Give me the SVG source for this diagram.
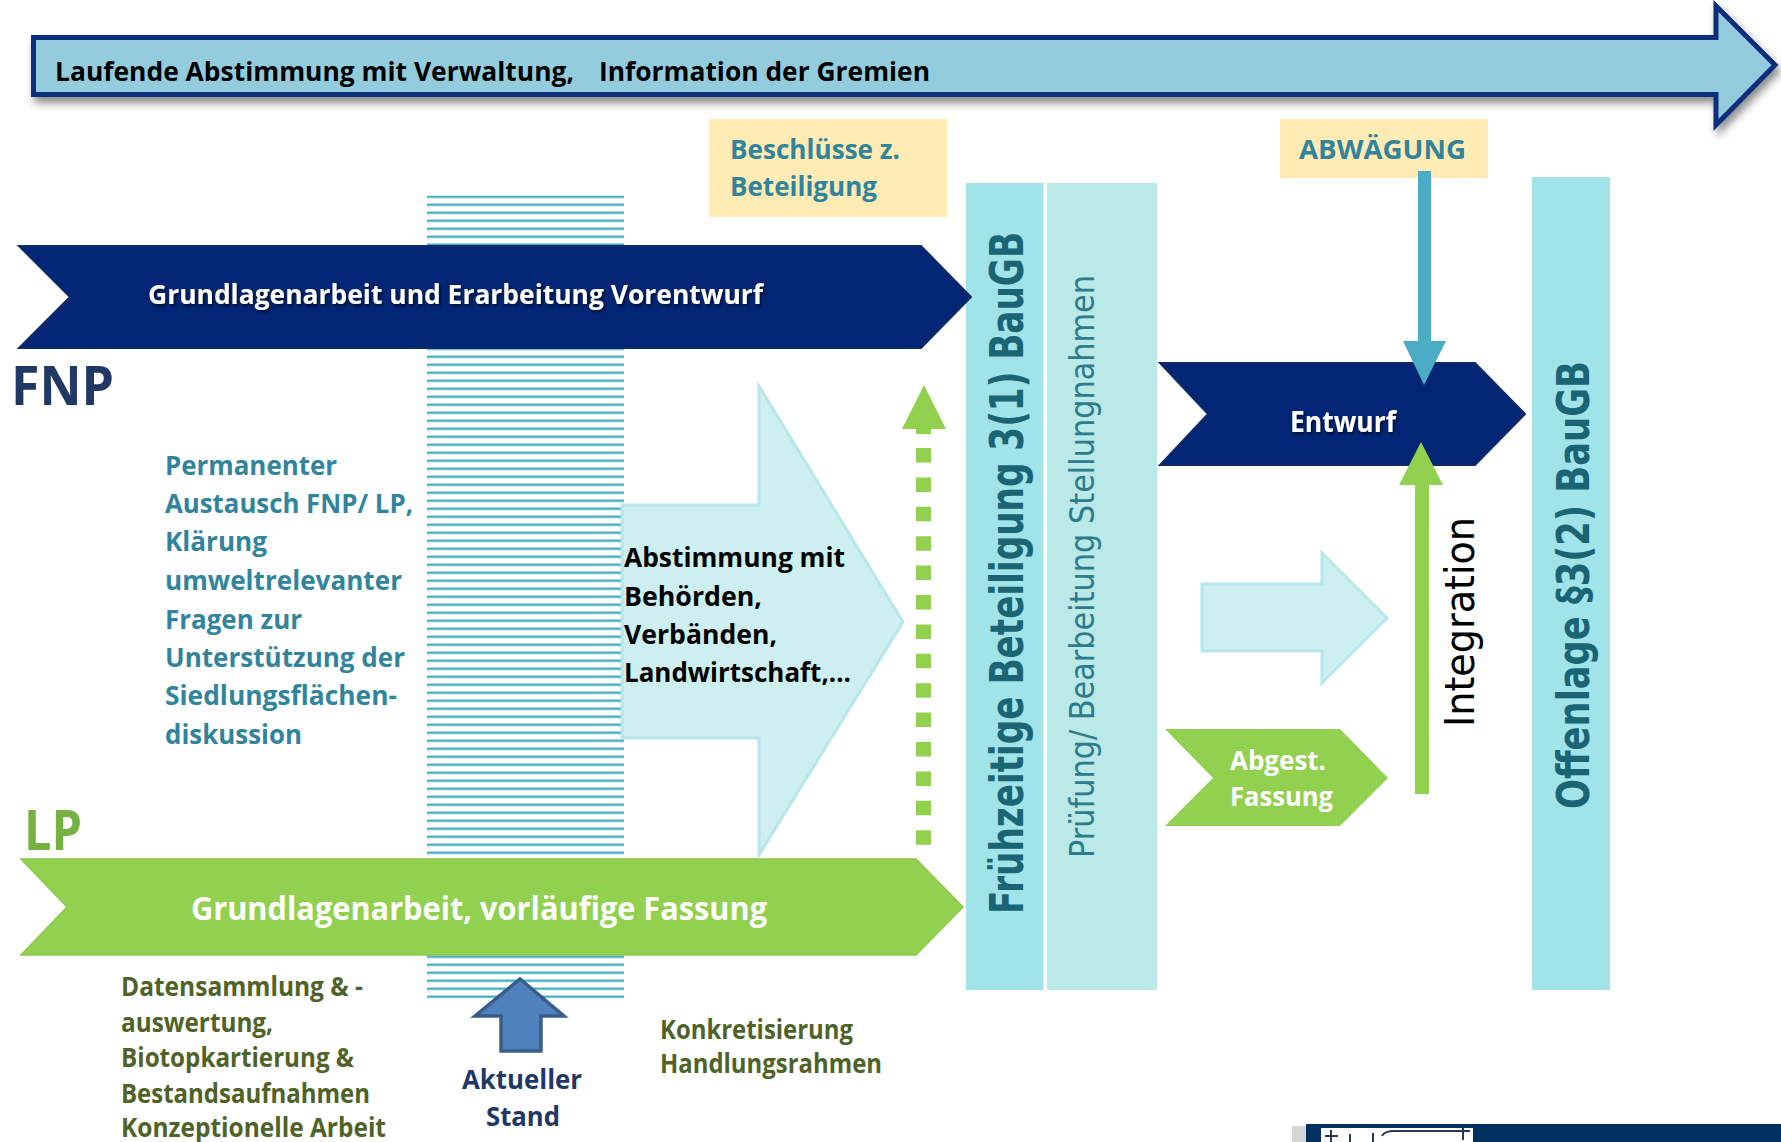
<svg xmlns="http://www.w3.org/2000/svg" width="1781" height="1142" viewBox="0 0 1781 1142">
<defs>
<style>
.t{font-family:"Open Sans","Liberation Sans",sans-serif;font-weight:bold}
.v{font-family:"DejaVu Sans","Liberation Sans",sans-serif}
.teal{fill:#31849B}
.olive{fill:#4F6228}
.wh{fill:#FFFFFF}
.navy{fill:#022575;stroke:#0E2C66;stroke-width:2}
.green{fill:#92D050}
.light{fill:#CDEFEF;stroke:#B8E6EA;stroke-width:3}
</style>
<pattern id="hatch" patternUnits="userSpaceOnUse" x="0" y="195.5" width="200" height="8">
<rect x="0" y="0" width="200" height="2.5" fill="#4BACC6"/>
</pattern>
<filter id="sh" x="-5%" y="-30%" width="110%" height="170%">
<feDropShadow dx="3" dy="6" stdDeviation="4" flood-color="#000" flood-opacity="0.45"/>
</filter>
<filter id="tsh" x="-10%" y="-30%" width="120%" height="160%">
<feDropShadow dx="1.5" dy="2" stdDeviation="1.5" flood-color="#000" flood-opacity="0.6"/>
</filter>
</defs>
<rect width="1781" height="1142" fill="#FFFFFF"/>

<g id="top-arrow">
<polygon points="33.5,37.5 1716,37.5 1716,6 1775,65 1716,125 1716,94.5 33.5,94.5" fill="#93CDDD" stroke="#0D2D7A" stroke-width="5" filter="url(#sh)"/>
<text class="t" x="55" y="81" font-size="27" fill="#000" textLength="519" lengthAdjust="spacingAndGlyphs">Laufende Abstimmung mit Verwaltung,</text>
<text class="t" x="599" y="81" font-size="27" fill="#000" textLength="331" lengthAdjust="spacingAndGlyphs">Information der Gremien</text>
</g>

<g id="hatch-column">
<rect x="427" y="195.5" width="197" height="803" fill="url(#hatch)"/>
</g>

<g id="beschluesse">
<rect x="709" y="119" width="238" height="98" fill="#FFEBB3"/>
<text class="t teal" x="730" y="159" font-size="26" textLength="170" lengthAdjust="spacingAndGlyphs">Beschlüsse z.</text>
<text class="t teal" x="730" y="196" font-size="26" textLength="147" lengthAdjust="spacingAndGlyphs">Beteiligung</text>
</g>

<g id="abwaegung">
<rect x="1280" y="119" width="208" height="59" fill="#FFEBB3"/>
<text class="t teal" x="1299" y="159" font-size="27" textLength="167" lengthAdjust="spacingAndGlyphs">ABWÄGUNG</text>
</g>

<g id="col-fruehzeitig">
<rect x="966" y="183" width="77.5" height="807" fill="#A0E3E8"/>
<text class="v" transform="translate(1023,914) rotate(-90)" font-size="46" font-weight="bold" fill="#1B6474" textLength="682" lengthAdjust="spacingAndGlyphs">Frühzeitige Beteiligung 3(1) BauGB</text>
</g>

<g id="col-pruefung">
<rect x="1047" y="183" width="110" height="807" fill="#BBE9E8"/>
<text class="v" transform="translate(1094,858) rotate(-90)" font-size="34" fill="#2B7C8C" textLength="583" lengthAdjust="spacingAndGlyphs">Prüfung/ Bearbeitung Stellungnahmen</text>
</g>

<g id="col-offenlage">
<rect x="1532" y="177" width="78" height="813" fill="#A0E3E8"/>
<text class="v" transform="translate(1589,809) rotate(-90)" font-size="45" font-weight="bold" fill="#1B6474" textLength="448" lengthAdjust="spacingAndGlyphs">Offenlage §3(2) BauGB</text>
</g>

<g id="fnp-arrow">
<polygon class="navy" points="19,246 921,246 971,297 921,348 19,348 70,297"/>
<text class="t wh" x="148" y="304" font-size="26" textLength="615" lengthAdjust="spacingAndGlyphs" filter="url(#tsh)">Grundlagenarbeit und Erarbeitung Vorentwurf</text>
</g>

<g id="label-fnp">
<text class="t" x="11" y="405" font-size="54" fill="#1F3864" textLength="103" lengthAdjust="spacingAndGlyphs">FNP</text>
</g>

<g id="permanent-text">
<text class="t teal" font-size="26">
<tspan x="165" y="475" textLength="172" lengthAdjust="spacingAndGlyphs">Permanenter</tspan>
<tspan x="165" y="513" textLength="248" lengthAdjust="spacingAndGlyphs">Austausch FNP/ LP,</tspan>
<tspan x="165" y="551" textLength="102" lengthAdjust="spacingAndGlyphs">Klärung</tspan>
<tspan x="165" y="590" textLength="237" lengthAdjust="spacingAndGlyphs">umweltrelevanter</tspan>
<tspan x="165" y="629" textLength="137" lengthAdjust="spacingAndGlyphs">Fragen zur</tspan>
<tspan x="165" y="667" textLength="240" lengthAdjust="spacingAndGlyphs">Unterstützung der</tspan>
<tspan x="165" y="705" textLength="232" lengthAdjust="spacingAndGlyphs">Siedlungsflächen-</tspan>
<tspan x="165" y="744" textLength="137" lengthAdjust="spacingAndGlyphs">diskussion</tspan>
</text>
</g>

<g id="abstimmung-arrow">
<polygon class="light" points="622,505 759,505 759,386 903,622 759,855 759,738 622,738"/>
<text class="t" font-size="26" fill="#000">
<tspan x="624" y="567" textLength="221" lengthAdjust="spacingAndGlyphs">Abstimmung mit</tspan>
<tspan x="624" y="606" textLength="138" lengthAdjust="spacingAndGlyphs">Behörden,</tspan>
<tspan x="624" y="644" textLength="153" lengthAdjust="spacingAndGlyphs">Verbänden,</tspan>
<tspan x="624" y="682" textLength="227" lengthAdjust="spacingAndGlyphs">Landwirtschaft,…</tspan>
</text>
</g>

<g id="entwurf">
<polygon class="navy" points="1160,363 1475,363 1525,414 1475,465 1160,465 1208,414"/>
<text class="t wh" x="1290" y="432" font-size="28" textLength="106" lengthAdjust="spacingAndGlyphs" filter="url(#tsh)">Entwurf</text>
</g>

<g id="small-arrow">
<polygon class="light" points="1202,584 1322,584 1322,553 1387,618 1322,683 1322,651 1202,651"/>
</g>

<g id="abgest">
<polygon class="green" points="1165,729 1340,729 1388,778 1340,826 1165,826 1213,778"/>
<text class="t wh" x="1230" y="770" font-size="26" textLength="96" lengthAdjust="spacingAndGlyphs">Abgest.</text>
<text class="t wh" x="1230" y="806" font-size="26" textLength="103" lengthAdjust="spacingAndGlyphs">Fassung</text>
</g>

<g id="integration">
<text class="v" transform="translate(1474,727) rotate(-90)" font-size="41" fill="#000" textLength="210" lengthAdjust="spacingAndGlyphs">Integration</text>
</g>

<g id="lp-arrow">
<polygon fill="#92D050" stroke="#8CC84B" stroke-width="1.5" points="21,859 916,859 963,907 916,955 21,955 67,907"/>
<text class="t wh" x="191" y="920" font-size="32" textLength="576" lengthAdjust="spacingAndGlyphs">Grundlagenarbeit, vorläufige Fassung</text>
</g>

<g id="label-lp">
<text class="t" x="24" y="850" font-size="56" fill="#77B043" textLength="58" lengthAdjust="spacingAndGlyphs">LP</text>
</g>

<g id="lp-text">
<text class="t olive" font-size="26">
<tspan x="121" y="996" textLength="242" lengthAdjust="spacingAndGlyphs">Datensammlung &amp; -</tspan>
<tspan x="121" y="1032" textLength="152" lengthAdjust="spacingAndGlyphs">auswertung,</tspan>
<tspan x="121" y="1067" textLength="233" lengthAdjust="spacingAndGlyphs">Biotopkartierung &amp;</tspan>
<tspan x="121" y="1103" textLength="249" lengthAdjust="spacingAndGlyphs">Bestandsaufnahmen</tspan>
<tspan x="121" y="1137" textLength="265" lengthAdjust="spacingAndGlyphs">Konzeptionelle Arbeit</tspan>
</text>
</g>

<g id="aktueller-stand">
<polygon points="501,1051 541,1051 541,1016 564,1016 520,979 475,1016 501,1016" fill="#4F81BD" stroke="#385D8A" stroke-width="3.5" stroke-linejoin="miter"/>
<text class="t" font-size="26" fill="#1F3864">
<tspan x="462" y="1089" textLength="120" lengthAdjust="spacingAndGlyphs">Aktueller</tspan>
<tspan x="486" y="1126" textLength="74" lengthAdjust="spacingAndGlyphs">Stand</tspan>
</text>
</g>

<g id="konkretisierung">
<text class="t olive" font-size="26">
<tspan x="660" y="1039" textLength="193" lengthAdjust="spacingAndGlyphs">Konkretisierung</tspan>
<tspan x="660" y="1073" textLength="222" lengthAdjust="spacingAndGlyphs">Handlungsrahmen</tspan>
</text>
</g>

<g id="connectors">
<line x1="923.5" y1="448" x2="923.5" y2="845" stroke="#92D050" stroke-width="15" stroke-dasharray="14.5 14.9"/>
<rect x="916" y="428" width="15" height="6" fill="#92D050"/>
<polygon points="902,429 946,429 924,385" fill="#92D050"/>
<rect x="1418" y="171" width="13" height="171" fill="#4BACC6"/>
<polygon points="1403,341 1446,341 1424,385" fill="#4BACC6"/>
<rect x="1415" y="484" width="14" height="310" fill="#92D050"/>
<polygon points="1399,485 1443,485 1421,442" fill="#92D050"/>
</g>

<g id="logo-fragment">
<rect x="1292" y="1126" width="16" height="16" fill="#BBBBBB" opacity="0.6"/>
<rect x="1306" y="1124" width="475" height="18" fill="#012F5F"/>
<rect x="1321" y="1128" width="152" height="14" fill="#FFFFFF"/>
<path d="M1325,1136 H1338 M1331,1130 V1142 M1350,1134 V1142 M1373,1133 V1142 M1382,1136 Q1384,1131 1395,1131 H1470 M1463,1128 V1140" stroke="#2A3A55" stroke-width="2" fill="none"/>
</g>
</svg>
